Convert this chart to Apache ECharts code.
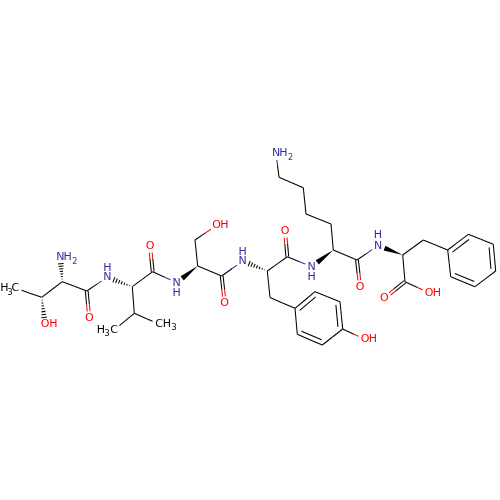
<!DOCTYPE html>
<html>
<head>
<meta charset="utf-8">
<style>html,body{margin:0;padding:0;background:#fff}#c{width:500px;height:500px}</style>
<script src="https://cdn.jsdelivr.net/npm/echarts@6/dist/echarts.min.js"></script>
</head>
<body>
<div id="c"></div>
<script>
// Atom vertices
const atomX = [15,41.7,45,62.3,60.3,86.7,89.3,107.3,132.3,152.7,150,134.3,114,159,176.7,197.7,195,216.7,221.7,224.7,242.7,267.3,287.3,285,270,295,315,340,342.7,322.3,297.3,365,311.7,333.3,331,306,303.3,279,276,357,360,378,402.7,423.3,447.7,468.3,493.3,495.7,475,450.7,405,384.3,429];
const atomY = [288,297.3,324.3,281.7,256.7,291,318.3,277.3,286.7,271.7,245.7,313.3,330,324,282.7,266,240,225.3,276,303.3,261,271,256.7,230.7,297.5,308.3,291.7,301.7,329,345,334.3,339.3,266.7,250,224,214,187.7,177.3,153,260,287,245.7,255,240,250,234.3,244.3,271,286.7,276.7,281.7,298.3,292.7];
// Element of each atom: C = plain vertex, c = carbon with a label
const atomKind = ("cCOCNCONCCOCcc"+"NCCOCO"+"NCCOC"+"CCCCCC"+"O"+"N"+"CCCCC"+"N"+"C"+"O"+"N"+"CC"+"CCCCCC"+"C"+"OO").split("");
// Bonds: from atom, to atom, order
const bondFrom  = [0,1,1,3,3,5,5,7,8,9,8,11,11,9,14,15,16,15,18,18,20,21,22,21,24,25,26,27,28,29,30,28,22,32,33,34,35,36,37,33,39,39,41,42,43,44,45,46,47,48,49,42,50,50];
const bondTo    = [1,2,3,4,5,6,7,8,9,10,11,12,13,14,15,16,17,18,19,20,21,22,23,24,25,26,27,28,29,30,25,31,32,33,34,35,36,37,38,39,40,41,42,43,44,45,46,47,48,49,44,50,51,52];
const bondOrder = [1,1,1,1,1,2,1,1,1,2,1,1,1,1,1,1,1,1,2,1,1,1,2,1,1,2,1,2,1,2,1,1,1,1,1,1,1,1,1,1,2,1,1,1,1,2,1,2,1,2,1,1,2,1];
// Text labels
const labelText = ["H","3","C","O","H","N","H","2","O","N","H","O","H","3","C","C","H","3","N","H","O","H","O","N","H","O","N","H","O","H","N","H","2","O","N","H","O","O","H"];
const labelX = [4.3,10,15.3,45,53.3,60.3,67.7,74.7,89.3,107.3,107.3,150,100.8,107,114,159,167,174,176.7,176.7,216.7,224.5,224.7,242.7,242.7,285,311.7,311.7,365,373,276,283.5,290.5,360,378,378,384.3,429,437];
const labelY = [288,292.7,288,324.3,324.3,256.7,256.7,261.7,318.3,277.3,267.7,245.7,330,334,330,324,324,328,282.7,292.7,225.3,225.3,303.3,261,251.7,230.7,266.7,276.7,339.3,339.3,153,153,158,287,245.7,235,298.3,292.7,292.7];
const labelKind = "cccOOnnnOnnOccccccnnOOOnnOnnOOnnnOnnOOO".split("");
const isSub = ["3","2"];
const stereoBonds = {"1-2":2,"3-4":2,"8-7":2,"15-14":1,"21-20":2,"33-32":1,"42-41":1};
const ringCentres = {"25":[318.6,318.3],"26":[318.6,318.3],"27":[318.6,318.3],"28":[318.6,318.3],"29":[318.6,318.3],"30":[318.6,318.3],"44":[471.5,260.5],"45":[471.5,260.5],"46":[471.5,260.5],"47":[471.5,260.5],"48":[471.5,260.5],"49":[471.5,260.5]};

const BLACK = "#000000", NC = "#3030a0", OC = "#ff0000";
const colorOf = k => k === "N" || k === "n" ? NC : k === "O" ? OC : BLACK;
const trimOf = k => k === "C" ? 0 : 7;

function seg(p, q, color) {
  return {type:"line", shape:{x1:p[0],y1:p[1],x2:q[0],y2:q[1]}, style:{stroke:color,lineWidth:1.05,lineCap:"butt"}};
}
function plain(p, q, mid, cp, cq, out) { out.push(seg(p, mid, cp)); out.push(seg(mid, q, cq)); }

function renderBond(params, api) {
  const a = api.value(0), b = api.value(1), order = api.value(2);
  const pa = api.coord([atomX[a], atomY[a]]), pb = api.coord([atomX[b], atomY[b]]);
  const ka = atomKind[a], kb = atomKind[b];
  const dx = pb[0]-pa[0], dy = pb[1]-pa[1], len = Math.hypot(dx,dy), ux = dx/len, uy = dy/len;
  const ta = trimOf(ka), tb = trimOf(kb);
  const s = [pa[0]+ux*ta, pa[1]+uy*ta], e = [pb[0]-ux*tb, pb[1]-uy*tb];
  const mid = [(pa[0]+pb[0])/2, (pa[1]+pb[1])/2];
  const children = [];
  const key1 = a+"-"+b, key2 = b+"-"+a;
  const stereo = stereoBonds[key1] || stereoBonds[key2] || 0;
  if (stereo) {
    const narrow = stereoBonds[key1] ? pa : pb;
    const wide = stereoBonds[key1] ? e : s;
    const nx = -uy, ny = ux;
    if (stereo === 1) {
      children.push({type:"polygon", shape:{points:[narrow,[wide[0]+nx*2.6,wide[1]+ny*2.6],[wide[0]-nx*2.6,wide[1]-ny*2.6]]}, style:{fill:BLACK}});
    } else {
      const n = 7;
      for (let i = 1; i <= n; i++) {
        const f = i/n, cx = narrow[0]+(wide[0]-narrow[0])*f, cy = narrow[1]+(wide[1]-narrow[1])*f, w = 2.8*f;
        children.push(seg([cx+nx*w,cy+ny*w],[cx-nx*w,cy-ny*w],BLACK));
      }
    }
  } else if (order === 2 && ringCentres[a] && ringCentres[b]) {
    plain(s, e, mid, colorOf(ka), colorOf(kb), children);
    const c = api.coord(ringCentres[a]);
    const inner = [pa,pb].map(p => { const vx=c[0]-p[0], vy=c[1]-p[1], d=Math.hypot(vx,vy); return [p[0]+vx/d*5.2, p[1]+vy/d*5.2]; });
    children.push(seg(inner[0], inner[1], BLACK));
  } else if (order === 2) {
    const nx = -uy*1.4, ny = ux*1.4;
    for (const k of [-1,1]) {
      plain([s[0]+nx*k,s[1]+ny*k],[e[0]+nx*k,e[1]+ny*k],[mid[0]+nx*k,mid[1]+ny*k],colorOf(ka),colorOf(kb),children);
    }
  } else {
    plain(s, e, mid, colorOf(ka), colorOf(kb), children);
  }
  return {type:"group", children};
}

function renderLabel(params, api) {
  const i = api.value(0);
  const p = api.coord([labelX[i], labelY[i]]);
  const t = labelText[i];
  return {type:"text", x:p[0], y:p[1], style:{
    text:t, fill:colorOf(labelKind[i]), align:"center", verticalAlign:"middle",
    font:(isSub.includes(t) ? 8 : 11)+'px "DejaVu Sans"'
  }};
}

const chart = echarts.init(document.getElementById("c"), null, {renderer:"canvas"});
chart.setOption({
  animation:false,
  backgroundColor:"#ffffff",
  grid:{left:0,right:0,top:0,bottom:0},
  xAxis:{type:"value",min:0,max:500,show:false},
  yAxis:{type:"value",min:0,max:500,inverse:true,show:false},
  series:[
    {type:"custom",coordinateSystem:"cartesian2d",silent:true,renderItem:renderBond,
     data:bondFrom.map((f,i)=>[f,bondTo[i],bondOrder[i]]),encode:{x:[],y:[]},clip:false},
    {type:"custom",coordinateSystem:"cartesian2d",silent:true,renderItem:renderLabel,
     data:labelText.map((t,i)=>[i]),encode:{x:[],y:[]},clip:false}
  ]
});
</script>
</body>
</html>
